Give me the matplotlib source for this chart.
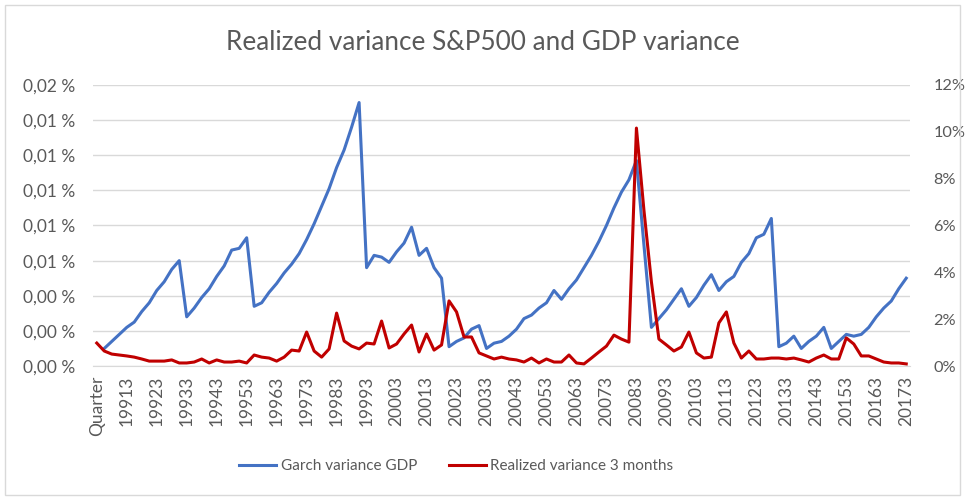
import numpy as np
import matplotlib
matplotlib.use('Agg')
import matplotlib.pyplot as plt
from matplotlib.ticker import FuncFormatter, MultipleLocator
from matplotlib.patches import Rectangle

plt.rcParams['font.family'] = ['Lato', 'DejaVu Sans']

# categories: header cell "Quarter" then 1990Q4 .. 2017Q3
quarters = ['Quarter']
for y in range(1990, 2018):
    for q in range(1, 5):
        if (y, q) >= (1990, 4) and (y, q) <= (2017, 3):
            quarters.append(f'{y}{q}')

# Garch variance GDP (in %), starts at 1990Q4
garch = [0.0010, 0.0014, 0.0018, 0.0022, 0.0025, 0.0031, 0.0036, 0.0043, 0.0048, 0.0055,
         0.0060, 0.0028, 0.0033, 0.0039, 0.0044, 0.0051, 0.0057, 0.0066, 0.0067, 0.0073,
         0.0034, 0.0036, 0.0042, 0.0047, 0.0053, 0.0058, 0.0064, 0.0072, 0.0081, 0.0091,
         0.0101, 0.0113, 0.0123, 0.0136, 0.0150, 0.0056, 0.0063, 0.0062, 0.0059, 0.0065,
         0.0070, 0.0079, 0.0063, 0.0067, 0.0056, 0.0050, 0.0011, 0.0014, 0.0016, 0.0021,
         0.0023, 0.0010, 0.0013, 0.0014, 0.0017, 0.0021, 0.0027, 0.0029, 0.0033, 0.0036,
         0.0043, 0.0038, 0.0044, 0.0049, 0.0056, 0.0063, 0.0071, 0.0080, 0.0090, 0.0099,
         0.0106, 0.0117, 0.0069, 0.0022, 0.0027, 0.0032, 0.0038, 0.0044, 0.0034, 0.0039,
         0.0046, 0.0052, 0.0043, 0.0048, 0.0051, 0.0059, 0.0064, 0.0073, 0.0075, 0.0084,
         0.0011, 0.0013, 0.0017, 0.0010, 0.0014, 0.0017, 0.0022, 0.0010, 0.0014, 0.0018,
         0.0017, 0.0018, 0.0022, 0.0028, 0.0033, 0.0037, 0.0044, 0.0050]

# Realized variance 3 months (in %), first value sits on the "Quarter" row
realized = [0.98, 0.64, 0.51, 0.47, 0.43, 0.38, 0.30, 0.21, 0.21, 0.21,
            0.26, 0.13, 0.13, 0.17, 0.30, 0.13, 0.26, 0.17, 0.17, 0.21,
            0.13, 0.47, 0.38, 0.34, 0.21, 0.38, 0.68, 0.64, 1.45, 0.64,
            0.38, 0.73, 2.26, 1.07, 0.85, 0.73, 0.98, 0.94, 1.92, 0.77,
            0.94, 1.37, 1.75, 0.60, 1.37, 0.68, 0.90, 2.78, 2.31, 1.24,
            1.24, 0.56, 0.43, 0.30, 0.38, 0.30, 0.26, 0.17, 0.34, 0.13,
            0.30, 0.17, 0.17, 0.47, 0.13, 0.09, 0.34, 0.60, 0.85, 1.32,
            1.15, 1.02, 10.16, 6.66, 3.59, 1.15, 0.90, 0.64, 0.81, 1.45,
            0.56, 0.34, 0.38, 1.84, 2.31, 0.98, 0.34, 0.64, 0.30, 0.30,
            0.34, 0.34, 0.30, 0.34, 0.26, 0.17, 0.34, 0.47, 0.30, 0.30,
            1.20, 0.94, 0.43, 0.43, 0.30, 0.17, 0.13, 0.13, 0.09]

txt = '#595959'
blue = '#4472C4'
red = '#C00000'

fig = plt.figure(figsize=(9.65, 4.99), dpi=100)
fig.patches.append(Rectangle((0.005, 0.008), 0.99, 0.982, transform=fig.transFigure,
                             fill=False, edgecolor='#D9D9D9', linewidth=1))
ax = fig.add_axes([0.0964, 0.2665, 0.8466, 0.5632])
ax2 = ax.twinx()

x = np.arange(len(quarters))
l1, = ax.plot(x[1:], garch, color=blue, lw=2.2, solid_joinstyle='round')
l2, = ax2.plot(x, realized, color=red, lw=2.2, solid_joinstyle='round')

ax.set_xlim(-0.5, len(quarters) - 0.5)
ax.set_ylim(0, 0.016)
ax2.set_ylim(0, 12)
ax.yaxis.set_major_locator(MultipleLocator(0.002))
ax2.yaxis.set_major_locator(MultipleLocator(2))
ax.yaxis.set_major_formatter(FuncFormatter(lambda v, p: f'{v:.2f} %'.replace('.', ',')))
ax2.yaxis.set_major_formatter(FuncFormatter(lambda v, p: f'{v:.0f}%'))
ax.grid(axis='y', color='#D9D9D9', lw=1)
ax.set_axisbelow(True)

ax.set_xticks(x[::4])
ax.set_xticklabels(quarters[::4], rotation=90)

for a in (ax, ax2):
    for s in a.spines.values():
        s.set_visible(False)
    a.tick_params(length=0, colors=txt)
ax.spines['bottom'].set_visible(True)
ax.spines['bottom'].set_color('#D9D9D9')
ax.tick_params(axis='y', pad=13, labelsize=12.5)
ax2.tick_params(axis='y', pad=17, labelsize=11.8)
ax.tick_params(axis='x', pad=7, labelsize=12.5)

fig.text(0.5, 0.915, 'Realized variance S&P500 and GDP variance', ha='center', va='center',
         fontsize=18.8, color=txt)
fig.legend([l1, l2], ['Garch variance GDP', 'Realized variance 3 months'], loc='center',
           bbox_to_anchor=(0.473, 0.066), ncol=2, frameon=False, fontsize=11,
           labelcolor=txt, handlelength=2.4, handletextpad=0.3, columnspacing=2.1)

fig.savefig('out.png', dpi=100)
